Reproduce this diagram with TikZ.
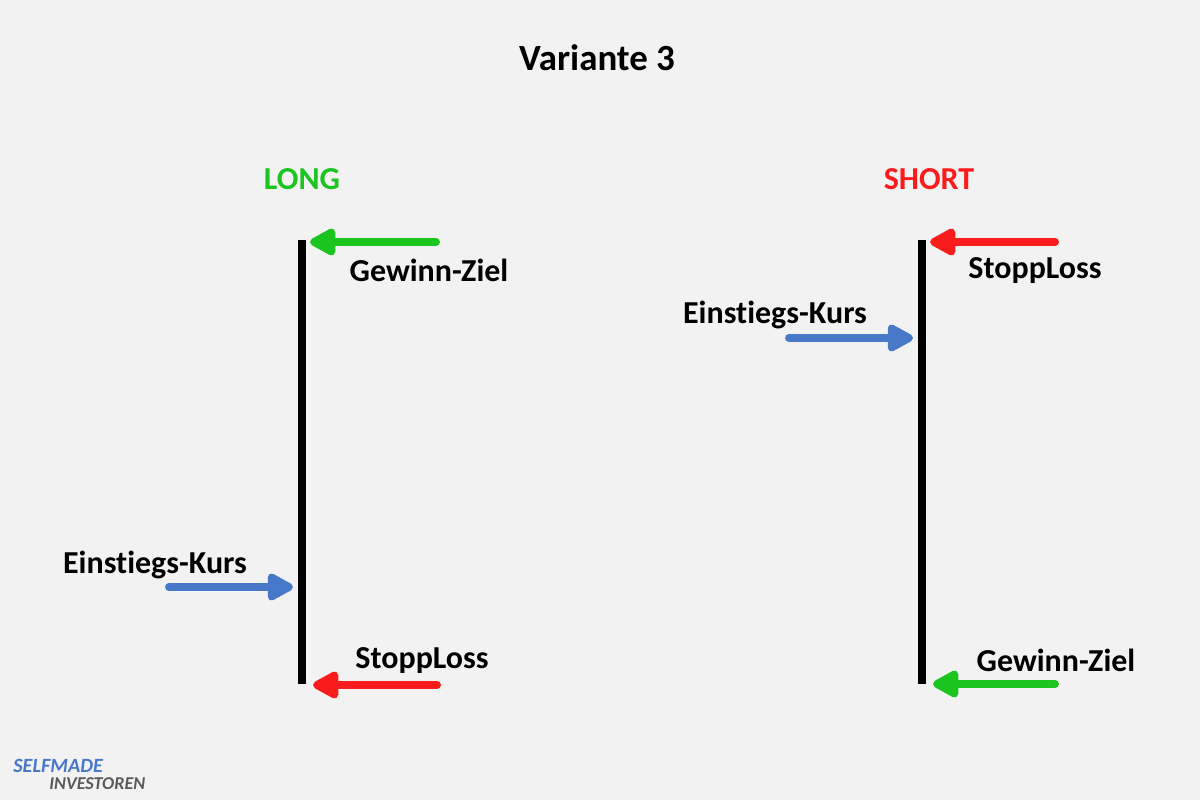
\documentclass[tikz,border=0pt]{standalone}
\usepackage{fontspec}
\setmainfont{Carlito}[Ligatures={NoCommon}]
\usetikzlibrary{arrows.meta}
\definecolor{bg}{RGB}{242,242,242}
\definecolor{gr}{RGB}{28,196,32}
\definecolor{rd}{RGB}{250,28,28}
\definecolor{bl}{RGB}{72,120,200}
\definecolor{lg}{RGB}{90,90,90}
\begin{document}
\begin{tikzpicture}[x=0.02cm,y=-0.02cm,
 lbl/.style={font=\bfseries\fontsize{18.2}{21}\selectfont,inner sep=0,yshift=-1.5pt},
 arr/.style={line width=4.5pt,line cap=round,-{Triangle[length=17pt,width=17pt,round]}},
 bar/.style={line width=4.6pt}]
\fill[bg] (0,0) rectangle (1200,800);
\useasboundingbox (0,0) rectangle (1200,800);
\node[lbl,font=\bfseries\fontsize{21}{24}\selectfont] (title) at (597,55) {Variante 3};
\node[lbl,text=gr] (long) at (302,176) {LONG};
\node[lbl,text=rd] (short) at (929,176) {SHORT};
% left
\coordinate (lt) at (302,240); \coordinate (lb) at (302,684);
\draw[bar] (lt) -- (lb);
\coordinate (a1s) at (436,242); \coordinate (a1e) at (310,242);
\draw[arr,gr] (a1s) -- (a1e);
\node[lbl] (lgz) at (429,268) {Gewinn-Ziel};
\node[lbl] (lek) at (155,562) {Einstiegs-Kurs};
\coordinate (a2s) at (169,587); \coordinate (a2e) at (293,587);
\draw[arr,bl] (a2s) -- (a2e);
\node[lbl] (lsl) at (422,658) {StoppLoss};
\coordinate (a3s) at (437,685); \coordinate (a3e) at (313,685);
\draw[arr,rd] (a3s) -- (a3e);
% right
\coordinate (rt) at (922,240); \coordinate (rb) at (922,684);
\draw[bar] (rt) -- (rb);
\coordinate (b1s) at (1055,242); \coordinate (b1e) at (930,242);
\draw[arr,rd] (b1s) -- (b1e);
\node[lbl] (rsl) at (1035,268) {StoppLoss};
\node[lbl] (rek) at (775,312) {Einstiegs-Kurs};
\coordinate (b2s) at (789,338); \coordinate (b2e) at (913,338);
\draw[arr,bl] (b2s) -- (b2e);
\node[lbl] (rgz) at (1056,658) {Gewinn-Ziel};
\coordinate (b3s) at (1055,684); \coordinate (b3e) at (933,684);
\draw[arr,gr] (b3s) -- (b3e);
% logo
\node[inner sep=0,anchor=west,text=bl,font=\bfseries\itshape\fontsize{11.5}{12}\selectfont] (logo1) at (13,766) {SELFMADE};
\node[inner sep=0,anchor=west,text=lg,font=\bfseries\itshape\fontsize{10.3}{12}\selectfont] (logo2) at (49,784) {INVESTOREN};
\end{tikzpicture}
\end{document}
